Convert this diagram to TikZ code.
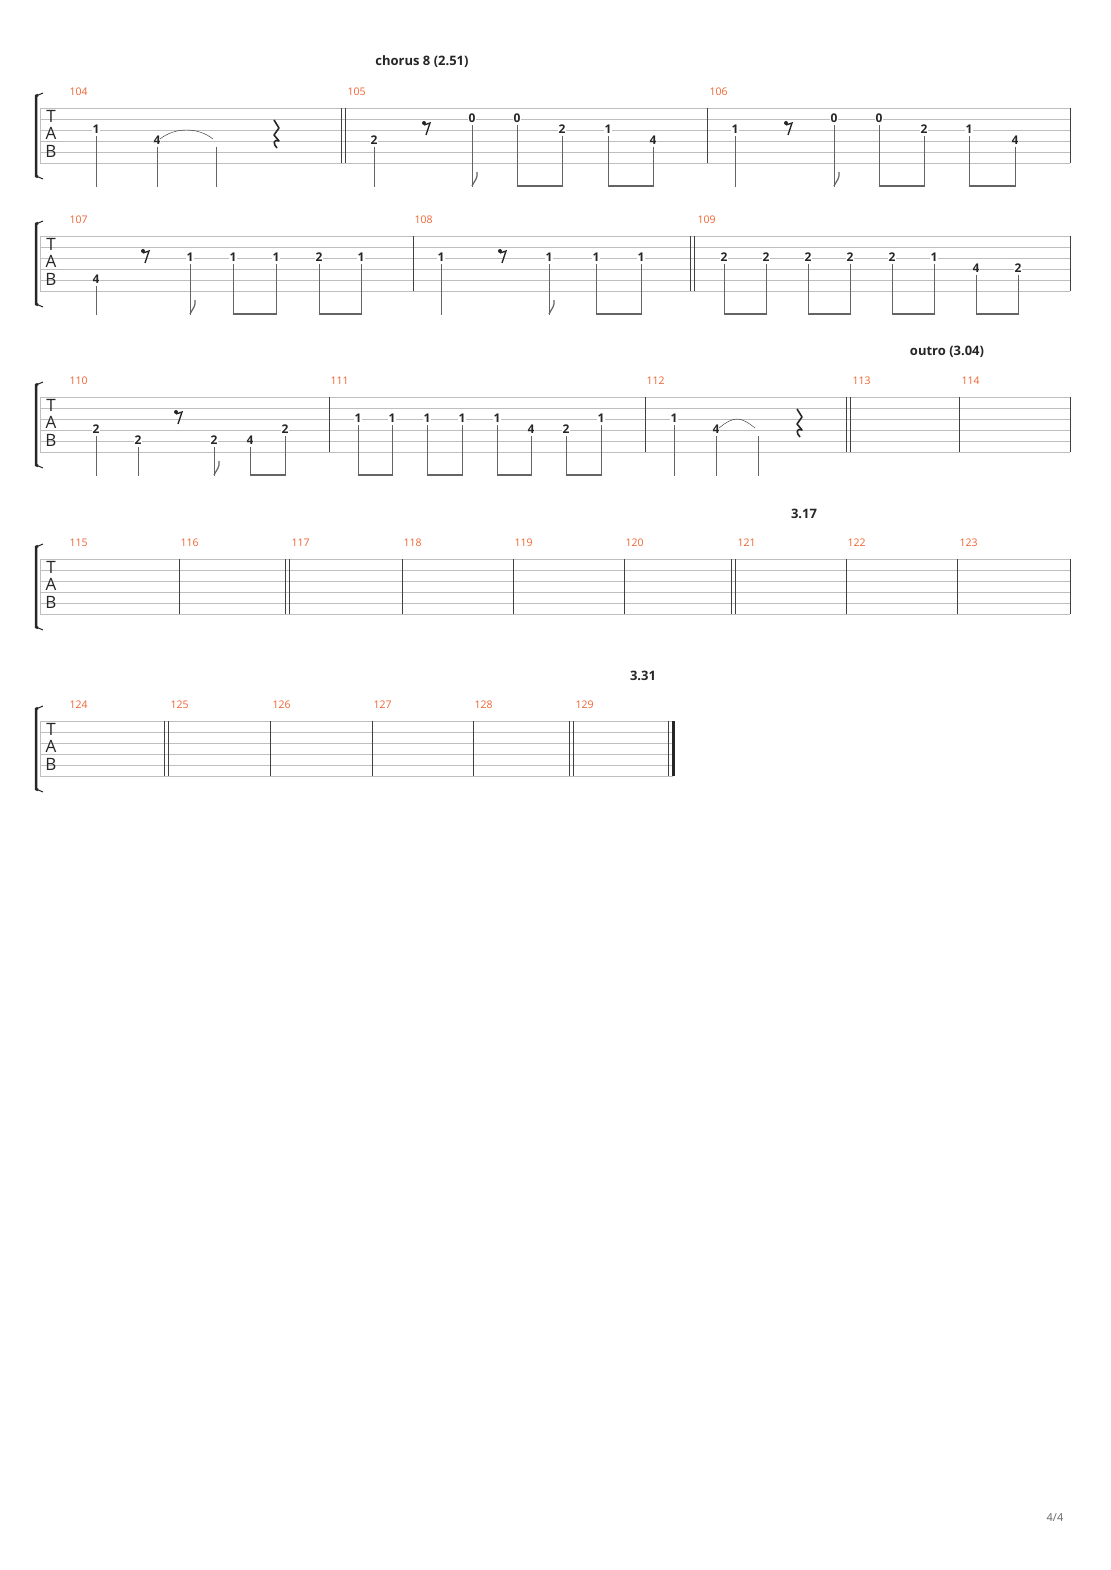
\documentclass[tikz,border=0pt]{standalone}
\usepackage{fontspec}
\setmainfont{Open Sans}
\definecolor{barnum}{RGB}{240,100,50}
\definecolor{staffgray}{RGB}{190,190,190}
\definecolor{stemgray}{RGB}{100,100,100}
\def\sysy{108}
% fret number with its stem
\newcommand\fret[3]{%
  \draw[stem] ({#1},{\sysy+11*(#2-1)+6}) -- ({#1},{\sysy+79});
  \node[fretnum] at ({#1},{\sysy+11*(#2-1)-1}) {#3};}
\newcommand\hold[2]{\draw[stem] ({#1},{\sysy+11*(#2-1)+6}) -- ({#1},{\sysy+79});}
\newcommand\beam[2]{\draw[beamline] ({#1},{\sysy+78}) -- ({#2},{\sysy+78});}
\newcommand\flag[1]{\draw[stem,line width=1.2pt] ({#1},{\sysy+78}) .. controls ({#1+3},{\sysy+72}) and ({#1+6},{\sysy+70}) .. ({#1+5},{\sysy+64});}
\newcommand\erest[1]{%
  \fill[black!85] ({#1-3},{\sysy+15}) circle (2);
  \draw[black!85,line width=1.3pt] ({#1-3},{\sysy+17}) -- ({#1+3},{\sysy+15}) -- ({#1-1},{\sysy+27});}
\newcommand\qrest[1]{%
  \draw[black!85,line width=1.6pt,line join=round] ({#1-2},{\sysy+12}) -- ({#1+3},{\sysy+20}) -- ({#1-2},{\sysy+27}) -- ({#1+3},{\sysy+33}) .. controls ({#1-3},{\sysy+31}) and ({#1-3},{\sysy+36}) .. ({#1+1},{\sysy+40});}
\newcommand\tie[3]{\draw[black!85] ({#1+3},{\sysy+11*(#3-1)-2}) .. controls ({#1+18},{\sysy+11*(#3-1)-14}) and ({#2-18},{\sysy+11*(#3-1)-14}) .. ({#2-3},{\sysy+11*(#3-1)-2});}
\newcommand\staff[1]{%
  \foreach \k in {0,...,5} {\draw[staffline] (40,{\sysy+11*\k}) -- (#1,{\sysy+11*\k});}
  \draw[line width=2.5pt,black!85] (38,{\sysy-13}) -- (36,{\sysy-12}) -- (36,{\sysy+68}) -- (38,{\sysy+69});
  \draw[line width=1pt,black!85] (36,{\sysy-12}) -- (43,{\sysy-15}) (36,{\sysy+68}) -- (43,{\sysy+71});
  \draw[staffline] (40,\sysy) -- (40,{\sysy+55});
  \node[tabletter] at (51,{\sysy+8}) {T};
  \node[tabletter] at (51,{\sysy+25}) {A};
  \node[tabletter] at (51,{\sysy+43}) {B};}
\newcommand\mbar[1]{\draw[barline] (#1,\sysy) -- (#1,{\sysy+55});}
\newcommand\mnum[2]{\node[measnum] at ({#1},{\sysy-16}) {#2};}
\begin{document}
\begin{tikzpicture}[x=1pt,y=-1pt,
  staffline/.style={staffgray,line width=0.8pt},
  barline/.style={black!75,line width=0.8pt},
  stem/.style={stemgray,line width=0.9pt},
  beamline/.style={stemgray,line width=2.6pt},
  fretnum/.style={fill=white,inner sep=0.6pt,font=\fontsize{12}{12}\selectfont\bfseries,text=black!85},
  measnum/.style={anchor=west,font=\fontsize{10.5}{11}\selectfont,text=barnum},
  tabletter/.style={font=\fontsize{17}{17}\selectfont,text=black!85},
  section/.style={font=\fontsize{13}{13}\selectfont\bfseries,text=black!85}]
\useasboundingbox[fill=white] (0,0) rectangle (1110,1570);
% system 1
\def\sysy{108}
\node[section] at (422,62) {chorus 8 (2.51)};
\staff{1070}
\mbar{341}\mbar{345}\mbar{707}\mbar{1070}
\mnum{66}{104}\mnum{344}{105}\mnum{706}{106}
\fret{96}{3}{1}\fret{157}{4}{4}\hold{216}{4}\tie{157}{216}{4}\qrest{276}
\fret{374}{4}{2}\erest{427}\fret{472}{2}{0}\flag{472}
\fret{517}{2}{0}\fret{562}{3}{2}\beam{517}{562}
\fret{608}{3}{1}\fret{653}{4}{4}\beam{608}{653}
\fret{735}{3}{1}\erest{789}\fret{834}{2}{0}\flag{834}
\fret{879}{2}{0}\fret{924}{3}{2}\beam{879}{924}
\fret{969}{3}{1}\fret{1015}{4}{4}\beam{969}{1015}
% system 2
\def\sysy{236}
\staff{1070}
\mbar{413}\mbar{690}\mbar{694}\mbar{1070}
\mnum{66}{107}\mnum{411}{108}\mnum{694}{109}
\fret{96}{5}{4}\erest{146}\fret{190}{3}{1}\flag{190}
\fret{233}{3}{1}\fret{276}{3}{1}\beam{233}{276}
\fret{319}{3}{2}\fret{361}{3}{1}\beam{319}{361}
\fret{441}{3}{1}\erest{503}\fret{549}{3}{1}\flag{549}
\fret{596}{3}{1}\fret{641}{3}{1}\beam{596}{641}
\fret{724}{3}{2}\fret{766}{3}{2}\beam{724}{766}
\fret{808}{3}{2}\fret{850}{3}{2}\beam{808}{850}
\fret{892}{3}{2}\fret{934}{3}{1}\beam{892}{934}
\fret{976}{4}{4}\fret{1018}{4}{2}\beam{976}{1018}
% system 3
\def\sysy{397}
\node[section] at (947,352) {outro (3.04)};
\staff{1070}
\mbar{329}\mbar{645}\mbar{846}\mbar{850}\mbar{959}\mbar{1070}
\mnum{66}{110}\mnum{327}{111}\mnum{643}{112}\mnum{849}{113}\mnum{958}{114}
\fret{96}{4}{2}\fret{138}{5}{2}\erest{179}\fret{214}{5}{2}\flag{214}
\fret{250}{5}{4}\fret{285}{4}{2}\beam{250}{285}
\fret{358}{3}{1}\fret{392}{3}{1}\beam{358}{392}
\fret{427}{3}{1}\fret{462}{3}{1}\beam{427}{462}
\fret{497}{3}{1}\fret{531}{4}{4}\beam{497}{531}
\fret{566}{4}{2}\fret{601}{3}{1}\beam{566}{601}
\fret{674}{3}{1}\fret{716}{4}{4}\hold{758}{4}\tie{716}{758}{4}\qrest{799}
% system 4
\def\sysy{559}
\node[section] at (804,514) {3.17};
\staff{1070}
\foreach \b in {179,285,289,402,513,624,731,735,846,957,1070} {\mbar{\b}}
\mnum{66}{115}\mnum{177}{116}\mnum{288}{117}\mnum{400}{118}\mnum{511}{119}
\mnum{622}{120}\mnum{734}{121}\mnum{844}{122}\mnum{956}{123}
% system 5
\def\sysy{721}
\node[section] at (643,676) {3.31};
\staff{673}
\foreach \b in {164,168,270,372,473,569,573,668} {\mbar{\b}}
\draw[black!85,line width=3pt] (673,\sysy) -- (673,{\sysy+55});
\mnum{66}{124}\mnum{167}{125}\mnum{269}{126}\mnum{370}{127}\mnum{471}{128}\mnum{572}{129}
\node[font=\fontsize{11}{11}\selectfont,text=black!60] at (1055,1518) {4/4};
\end{tikzpicture}
\end{document}
